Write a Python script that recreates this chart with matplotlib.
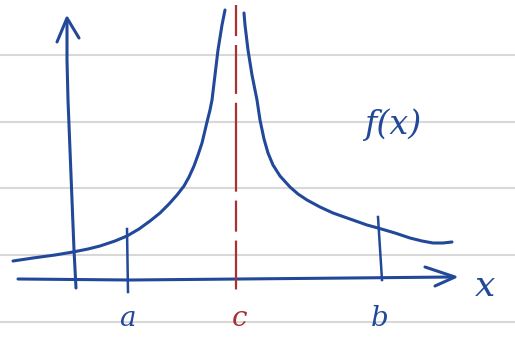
import matplotlib.pyplot as plt

# sketch in pixel-like units (y grows downward)
rule_y = [55, 122, 188, 255, 322]

left_x = [13, 33, 55, 73, 88, 100, 115, 127, 139, 150, 160, 169, 177, 184,
          189, 194, 198, 202, 207, 210, 212, 215, 218, 222, 225]
left_y = [261, 258, 255, 252, 249, 246, 241, 236, 229, 221, 213, 204, 195, 186,
          177, 166, 155, 143, 122, 110, 100, 75, 50, 25, 10]
right_x = [244, 245, 248, 252, 257, 260, 264, 268, 273, 280, 290, 298, 307, 320,
           333, 350, 367, 378, 395, 410, 422, 433, 443, 452]
right_y = [13, 25, 50, 75, 100, 120, 139, 153, 165, 176, 187, 194, 200, 207,
           213, 219, 225, 228, 233, 238, 241, 243, 243, 242]

yaxis_x = [76, 74, 72, 70, 68, 67, 67]
yaxis_y = [288, 250, 200, 150, 100, 60, 20]
xaxis_x = [18, 130, 240, 350, 452]
xaxis_y = [279, 280, 279, 278, 277]

tick_labels = ['a', 'c', 'b']
tick_x = [127, 236, 380]
tick_top = [229, 5, 217]
tick_bot = [292, 290, 280]

blue = '#22489a'
red = '#a83232'

fig = plt.figure(figsize=(5.15, 3.39), dpi=100)
ax = fig.add_axes([0, 0, 1, 1])
ax.set_xlim(0, 515)
ax.set_ylim(339, 0)
ax.axis('off')

for y in rule_y:
    ax.axhline(y, color='#d8d8d8', lw=1.5, zorder=0)

lw = 2.2
ax.plot(left_x, left_y, color=blue, lw=lw, solid_capstyle='round', solid_joinstyle='round')
ax.plot(right_x, right_y, color=blue, lw=lw, solid_capstyle='round', solid_joinstyle='round')

# axes with arrows
ax.plot(yaxis_x, yaxis_y, color=blue, lw=lw, solid_capstyle='round')
ax.plot([57, 67, 79], [42, 18, 38], color=blue, lw=lw,
        solid_capstyle='round', solid_joinstyle='round')
ax.plot(xaxis_x, xaxis_y, color=blue, lw=lw, solid_capstyle='round')
ax.plot([425, 455, 435], [267, 277, 286], color=blue, lw=lw,
        solid_capstyle='round', solid_joinstyle='round')

# ticks at a, b and asymptote at c
ax.plot([tick_x[0], tick_x[0] + 1], [tick_top[0], tick_bot[0]], color=blue, lw=1.8)
ax.plot([tick_x[2] - 2, tick_x[2] + 2], [tick_top[2], tick_bot[2]], color=blue, lw=1.8)
ax.plot([tick_x[1], tick_x[1]], [tick_top[1], tick_bot[1]], color=red, lw=1.6,
        dashes=(14, 4, 22, 4, 40, 4))

font = dict(family='DejaVu Serif', style='italic', fontsize=20)
for lab, x in zip(tick_labels, tick_x):
    ax.text(x + (4 if lab == 'c' else 0), 318, lab, color=red if lab == 'c' else blue,
            ha='center', va='center', **font)
ax.text(485, 286, 'x', color=blue, ha='center', va='center', **dict(font, fontsize=26))
ax.text(393, 125, 'f(x)', color=blue, ha='center', va='center', **dict(font, fontsize=24))

fig.savefig('out.png', dpi=100)
